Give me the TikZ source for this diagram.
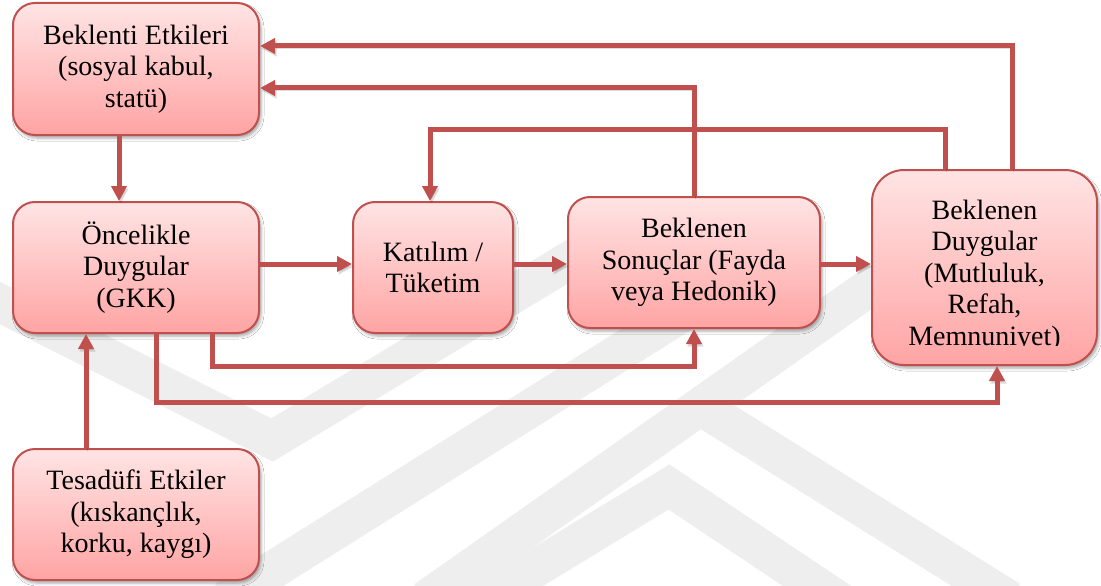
\documentclass[tikz,border=0pt]{standalone}
\usepackage{fontspec}
\newfontfamily\boxfont{Liberation Serif}
\usetikzlibrary{arrows.meta,shadows.blur}

\definecolor{accentred}{HTML}{C0504D}
\definecolor{boxtop}{RGB}{255,228,228}
\definecolor{boxbottom}{RGB}{255,164,164}
\definecolor{markgray}{RGB}{238,238,238}

\tikzset{
  box/.style={draw=accentred, line width=2pt, rounded corners=22pt,
    top color=boxtop, bottom color=boxbottom,
    blur shadow={shadow xshift=2pt, shadow yshift=-3pt,
      shadow blur radius=3pt, shadow opacity=35},
    inner sep=0pt, align=center,
    font=\boxfont\fontsize{28}{31.5}\selectfont},
  boxtext/.style={align=center, inner sep=0pt,
    font=\boxfont\fontsize{28}{31.5}\selectfont},
  conn/.style={draw=accentred, line width=5pt, line join=miter,
    -{Triangle[length=15pt,width=15pt]},
    preaction={draw=black, opacity=0.14,
      transform canvas={shift={(1.5pt,-2.5pt)}}}},
  wmband/.style={draw=markgray, line width=38pt, line join=miter}
}

\begin{document}
\begin{tikzpicture}[x=1pt, y=-1pt]
  \useasboundingbox (0,0) rectangle (1101,586);
  \fill[white] (0,0) rectangle (1101,586);

  % faint background emblem
  \begin{scope}
    \clip (0,0) rectangle (1101,586);
    \draw[wmband] (-30,288) -- (272,440) -- (590,248);
    \draw[wmband] (225,600) -- (735,280);
    \draw[wmband] (425,600) -- (880,280);
    \draw[wmband] (467,610) -- (669,487) -- (853,610);
    \draw[wmband] (690,400) -- (1010,600);
  \end{scope}

  % boxes
  \node[box, minimum width=246pt, minimum height=132pt] (bek) at (136,69)
    {Beklenti Etkileri\\(sosyal kabul,\\statü)};
  \node[box, minimum width=246pt, minimum height=131pt] (onc) at (136,267.5)
    {Öncelikle\\Duygular\\(GKK)};
  \node[box, minimum width=160pt, minimum height=131pt] (kat) at (433,267.5)
    {Katılım /\\Tüketim};
  \node[box, minimum width=252pt, minimum height=131pt] (son) at (694,262.5)
    {Beklenen\\Sonuçlar (Fayda\\veya Hedonik)};
  \node[box, rounded corners=32pt, minimum width=225pt, minimum height=195pt]
    (duy) at (984.5,267.5) {};
  \node[box, minimum width=246pt, minimum height=131pt] (tes) at (136,514.5)
    {Tesadüfi Etkiler\\(kıskançlık,\\korku, kaygı)};

  % text of the tall box, cut off at its lower edge
  \begin{scope}
    \clip (872,150) rectangle (1097,345.5);
    \node[boxtext] (duytxt) at (984.5,275.5)
      {Beklenen\\Duygular\\(Mutluluk,\\Refah,\\Memnuniyet)};
  \end{scope}

  % main chain
  \draw[conn] (onc.east |- 0,264) -- (kat.west |- 0,264);
  \draw[conn] (kat.east |- 0,264) -- (son.west |- 0,264);
  \draw[conn] (son.east |- 0,264) -- (duy.west |- 0,264);

  % vertical links on the left
  \draw[conn] (bek.south -| 119,0) -- (onc.north -| 119,0);
  \draw[conn] (tes.north -| 86,0) -- (onc.south -| 86,0);

  % links running underneath
  \draw[conn] (onc.south -| 212,0) -- (212,366) -| (son.south);
  \draw[conn] (onc.south -| 156,0) -- (156,402) -| (duy.south -| 997,0);

  % feedback links along the top
  \draw[conn] (duy.north -| 1012,0) |- (bek.east |- 0,46);
  \draw[conn] (son.north) |- (bek.east |- 0,88);
  \draw[conn] (duy.north -| 945,0) -- (945,129) -| (kat.north -| 430,0);
\end{tikzpicture}
\end{document}
